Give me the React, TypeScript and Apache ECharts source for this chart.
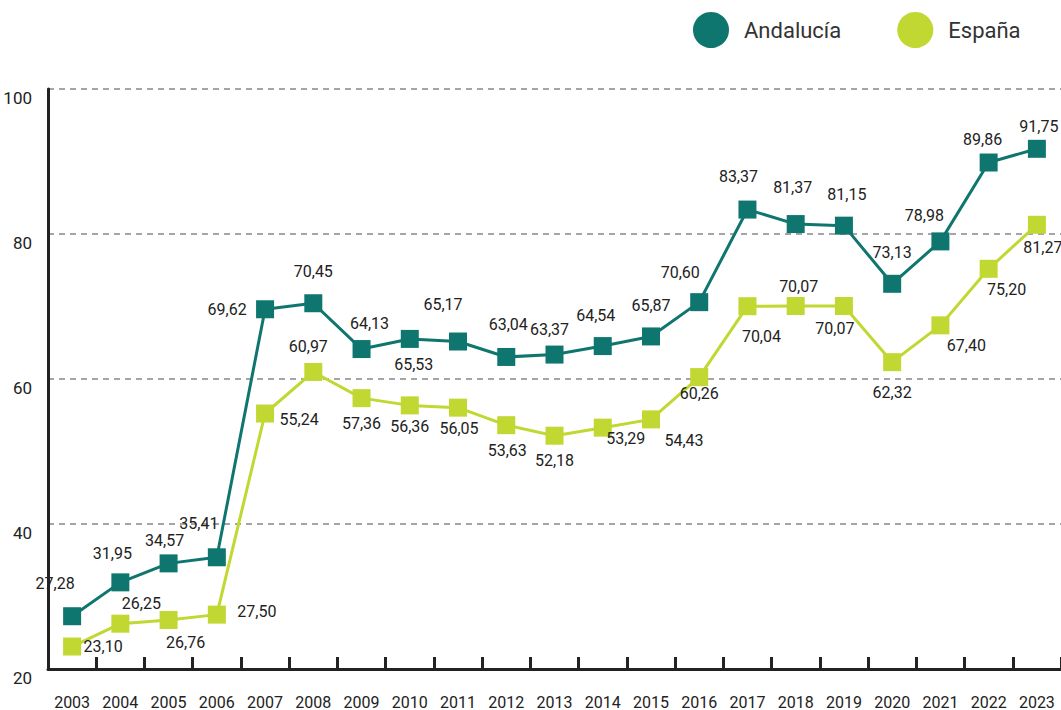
import React, { useEffect, useRef } from "react";
import * as echarts from "echarts";

const years = ["2003","2004","2005","2006","2007","2008","2009","2010","2011","2012","2013","2014","2015","2016","2017","2018","2019","2020","2021","2022","2023"];
const andalucia = [27.28,31.95,34.57,35.41,69.62,70.45,64.13,65.53,65.17,63.04,63.37,64.54,65.87,70.60,83.37,81.37,81.15,73.13,78.98,89.86,91.75];
const espana = [23.10,26.25,26.76,27.50,55.24,60.97,57.36,56.36,56.05,53.63,52.18,53.29,54.43,60.26,70.04,70.07,70.07,62.32,67.40,75.20,81.27];
const yTicks = [20, 40, 60, 80, 100];

// label offsets (pixels) relative to each marker
const andOffsets = [[-17,-33],[-8,-29],[-4,-23],[-18,-34],[-38,0],[0,-32],[8,-26],[4,26],[-15,-37],[2,-32],[-5,-25],[-7,-31],[0,-31],[-19,-30],[-9,-33],[-3,-37],[3,-31],[0,-31],[-16,-26],[-6,-23],[2,-22]];
const espOffsets = [[31,0],[21,-20],[17,23],[40,-3],[34,6],[-5,-25],[0,25],[0,21],[1,21],[1,25],[0,25],[23,11],[33,21],[0,16],[14,30],[3,-19],[-9,23],[0,30],[26,20],[18,21],[6,23]];

const TEAL = "#0e766f";
const LIME = "#c1d732";
const fmt = (v: number) => v.toFixed(2).replace(".", ",");

function buildData(values: number[], offsets: number[][]) {
  return values.map((v, i) => ({
    value: v,
    label: { show: true, position: "inside", offset: offsets[i] },
  }));
}

export default function App() {
  const ref = useRef<HTMLDivElement>(null);
  useEffect(() => {
    if (!ref.current) return;
    const chart = echarts.init(ref.current, undefined, { renderer: "svg" });
    const labelStyle = {
      color: "#222",
      fontSize: 16,
      fontFamily: "Roboto",
      formatter: (p: any) => fmt(p.value),
    };
    chart.setOption({
      animation: false,
      backgroundColor: "#fff",
      legend: {
        left: 688,
        top: 7,
        itemWidth: 36,
        itemHeight: 36,
        itemGap: 56,
        icon: "circle",
        textStyle: { fontSize: 22, color: "#333", fontFamily: "Roboto", padding: [0, 0, 0, 10] },
        data: [
          { name: "Andalucía", itemStyle: { color: TEAL } },
          { name: "España", itemStyle: { color: LIME } },
        ],
      },
      grid: { left: 48, top: 89, height: 580, width: 1017 },
      xAxis: {
        type: "category",
        data: years,
        boundaryGap: true,
        axisLine: { lineStyle: { color: "#222", width: 3 } },
        axisTick: { show: true, inside: true, length: 12, lineStyle: { color: "#222", width: 3 } },
        axisLabel: { color: "#222", fontSize: 16, fontFamily: "Roboto", margin: 25, interval: 0 },
      },
      yAxis: {
        type: "value",
        min: yTicks[0],
        max: yTicks[yTicks.length - 1],
        interval: 20,
        axisLine: { show: true, lineStyle: { color: "#222", width: 3 } },
        axisTick: { show: false },
        axisLabel: { color: "#222", fontSize: 17, fontFamily: "Roboto", margin: 16, verticalAlign: "top" },
        splitLine: { show: true, lineStyle: { color: "#888", width: 1.5, type: [6, 5] } },
      },
      series: [
        {
          name: "España",
          type: "line",
          data: buildData(espana, espOffsets),
          symbol: "rect",
          symbolSize: 18,
          lineStyle: { color: LIME, width: 3 },
          itemStyle: { color: LIME },
          label: labelStyle,
          z: 2,
        },
        {
          name: "Andalucía",
          type: "line",
          data: buildData(andalucia, andOffsets),
          symbol: "rect",
          symbolSize: 18,
          lineStyle: { color: TEAL, width: 3 },
          itemStyle: { color: TEAL },
          label: labelStyle,
          z: 3,
        },
      ],
    });
    return () => chart.dispose();
  }, []);
  return <div ref={ref} style={{ position: "absolute", left: 0, top: 0, width: 1061, height: 710 }} />;
}
